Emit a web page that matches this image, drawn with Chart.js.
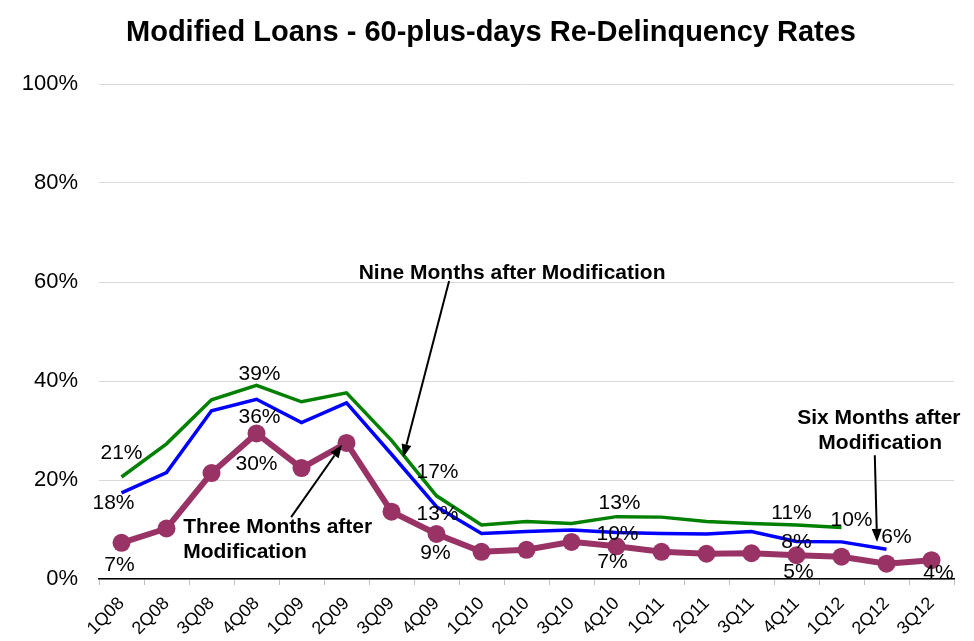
<!DOCTYPE html>
<html>
<head>
<meta charset="utf-8">
<script src="https://cdn.jsdelivr.net/npm/chart.js@4/dist/chart.umd.min.js"></script>
<style>
html,body{margin:0;padding:0;background:#fff;}
#wrap{width:974px;height:641px;}
</style>
</head>
<body>
<div id="wrap"><canvas id="c" width="974" height="641"></canvas></div>
<script>
const categories = ['1Q08','2Q08','3Q08','4Q08','1Q09','2Q09','3Q09','4Q09','1Q10','2Q10','3Q10','4Q10','1Q11','2Q11','3Q11','4Q11','1Q12','2Q12','3Q12'];
const nineMonths  = [20.6, 27.3, 36.2, 39.1, 35.8, 37.6, 28.0, 16.8, 10.9, 11.6, 11.2, 12.6, 12.5, 11.6, 11.2, 10.9, 10.4, null, null];
const sixMonths   = [17.4, 21.5, 34.0, 36.3, 31.6, 35.6, 25.2, 14.6, 9.2, 9.6, 9.9, 9.4, 9.2, 9.1, 9.6, 7.6, 7.5, 6.0, null];
const threeMonths = [7.3, 10.2, 21.4, 29.4, 22.4, 27.5, 13.6, 9.1, 5.5, 5.9, 7.5, 6.6, 5.5, 5.1, 5.2, 4.8, 4.5, 3.1, 3.8];
const nineLabels  = ['21%',null,null,'39%',null,null,null,'17%',null,null,null,'13%',null,null,null,'11%','10%',null,null];
const sixLabels   = ['18%',null,null,'36%',null,null,null,'13%',null,null,null,'10%',null,null,null,'8%',null,'6%',null];
const threeLabels = ['7%',null,null,'30%',null,null,null,'9%',null,null,null,'7%',null,null,null,'5%',null,null,'4%'];
const yTicks = [0, 20, 40, 60, 80, 100];
const titleText = 'Modified Loans - 60-plus-days Re-Delinquency Rates';
const nineText = ['Nine Months after Modification'];
const sixText = ['Six Months after', 'Modification'];
const threeText = ['Three Months after', 'Modification'];

const FONT = '"Liberation Sans", Arial, sans-serif';

// label offsets (pixels) relative to the point, per dataset
const labelOffsets = [
  {0:[0,-24],3:[3,-11],7:[1,-24],11:[3,-13],15:[-5,-12],16:[10,-7]},
  {0:[-8,10],3:[3,18],7:[1,7],11:[1,2],15:[0,1],17:[10,-12]},
  {0:[-2,22],3:[0,31],7:[-1,19],11:[-4,16],15:[2,17],18:[7,13]}
];
const labelTexts = [nineLabels, sixLabels, threeLabels];

function arrow(ctx, x1, y1, x2, y2) {
  const ang = Math.atan2(y2 - y1, x2 - x1);
  const hl = 13, hw = 5;
  const bx = x2 - hl * Math.cos(ang), by = y2 - hl * Math.sin(ang);
  ctx.save();
  ctx.strokeStyle = '#000'; ctx.fillStyle = '#000'; ctx.lineWidth = 2;
  ctx.beginPath(); ctx.moveTo(x1, y1); ctx.lineTo(bx, by); ctx.stroke();
  ctx.beginPath();
  ctx.moveTo(x2, y2);
  ctx.lineTo(bx + hw * Math.sin(ang), by - hw * Math.cos(ang));
  ctx.lineTo(bx - hw * Math.sin(ang), by + hw * Math.cos(ang));
  ctx.closePath(); ctx.fill();
  ctx.restore();
}

const overlay = {
  id: 'overlay',
  afterDraw(chart) {
    const ctx = chart.ctx, xs = chart.scales.x, ys = chart.scales.y;
    const X = v => xs.getPixelForValue(v), Y = v => ys.getPixelForValue(v);
    ctx.save();
    // title
    ctx.fillStyle = '#000';
    ctx.font = 'bold 29px ' + FONT;
    ctx.textAlign = 'center'; ctx.textBaseline = 'middle';
    ctx.fillText(titleText, 491, 33);
    // data labels
    ctx.font = '21px ' + FONT;
    labelTexts.forEach((arr, di) => {
      const meta = chart.getDatasetMeta(di);
      arr.forEach((t, i) => {
        if (!t) return;
        const p = meta.data[i];
        const o = labelOffsets[di][i] || [0, 0];
        ctx.fillText(t, p.x + o[0], p.y + o[1]);
      });
    });
    // annotations
    ctx.font = 'bold 21px ' + FONT;
    ctx.textAlign = 'center';
    ctx.fillText(nineText[0], X(8.68), Y(61.8));
    arrow(ctx, X(7.28), Y(60.2), X(6.26), Y(24.6));
    ctx.fillText(sixText[0], X(16.83), Y(32.5));
    ctx.fillText(sixText[1], X(16.86), Y(27.5));
    arrow(ctx, X(16.74), Y(25.0), X(16.79), Y(7.5));
    ctx.textAlign = 'left';
    ctx.fillText(threeText[0], X(1.37), Y(10.5));
    ctx.fillText(threeText[1], X(1.37), Y(5.4));
    arrow(ctx, X(3.77), Y(12.5), X(4.9), Y(27.1));
    ctx.restore();
  }
};

new Chart(document.getElementById('c'), {
  type: 'line',
  data: {
    labels: categories,
    datasets: [
      {label: 'Nine Months after Modification', data: nineMonths, borderColor: '#008000', backgroundColor: '#008000', borderWidth: 3.5, pointRadius: 0, tension: 0, spanGaps: false},
      {label: 'Six Months after Modification', data: sixMonths, borderColor: '#0000FF', backgroundColor: '#0000FF', borderWidth: 3.5, pointRadius: 0, tension: 0},
      {label: 'Three Months after Modification', data: threeMonths, borderColor: '#993366', backgroundColor: '#993366', borderWidth: 6, pointRadius: 9, pointBorderWidth: 0, pointBackgroundColor: '#993366', tension: 0}
    ]
  },
  options: {
    responsive: false,
    animation: false,
    events: [],
    layout: {padding: {top: 84, right: 20, left: 0, bottom: 0}},
    plugins: {legend: {display: false}, tooltip: {enabled: false}, title: {display: false}},
    scales: {
      x: {
        offset: true,
        grid: {offset: true, drawOnChartArea: false, drawTicks: true, tickLength: 6, color: '#bfbfbf'},
        border: {display: true, color: '#000', width: 1.5},
        ticks: {autoSkip: false, maxRotation: 45, minRotation: 45, color: '#000', padding: 8, font: {family: FONT, size: 18}},
        afterFit(s) { s.height = 62; }
      },
      y: {
        min: 0, max: 100,
        afterBuildTicks(s) { s.ticks = yTicks.map(v => ({value: v})); },
        grid: {color: '#d9d9d9', drawTicks: false, lineWidth: 1},
        border: {display: false},
        ticks: {color: '#000', padding: 21, font: {family: FONT, size: 22}, callback: v => v + '%'},
        afterFit(s) { s.width = 99; }
      }
    }
  },
  plugins: [overlay]
});
</script>
</body>
</html>
